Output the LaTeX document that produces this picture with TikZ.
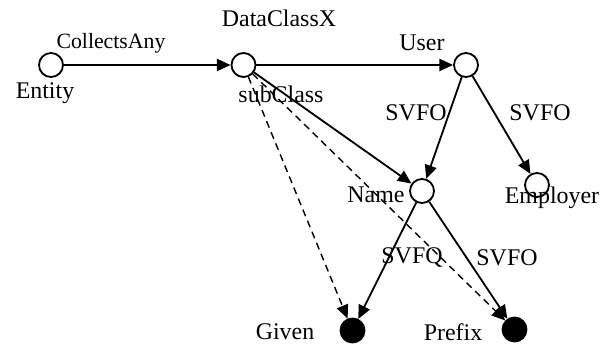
\documentclass[tikz,border=0pt]{standalone}
\usepackage{fontspec}
\setmainfont{Liberation Serif}
\usetikzlibrary{arrows.meta}

\begin{document}
\begin{tikzpicture}[x=0.025cm,y=-0.025cm,
    cls/.style={circle,draw,line width=1.3pt,minimum size=0.6cm,inner sep=0pt},
    inst/.style={cls,fill=black},
    txt/.style={font=\fontsize{17}{20}\selectfont,inner sep=0pt},
    rel/.style={-{Triangle[length=0.34cm,width=0.3cm]},line width=1.3pt},
    sub/.style={rel,line width=1pt,dash pattern=on 5pt off 3.5pt}]
    \useasboundingbox (0,0) rectangle (609,344);
    %classes
    \node[cls] (entity) at (51,65) {};
    \node[cls] (dcx) at (243.5,65) {};
    \node[cls] (user) at (466,65) {};
    \node[cls] (name) at (422,191) {};
    \node[cls] (employer) at (537,185) {};
    %instances
    \node[inst] (given) at (352.5,330.5) {};
    \node[inst] (prefix) at (514.5,329.5) {};

    %names
    \node[txt] (entityl) at (45,93) {Entity};
    \node[txt] (dcxl) at (279,18) {DataClassX};
    \node[txt] (userl) at (422,43) {User};
    \node[txt] (namel) at (376,195) {Name};
    \node[txt] (employerl) at (552,198) {Employer};
    \node[txt] (givenl) at (285,332) {Given};
    \node[txt] (prefixl) at (453,332) {Prefix};

    %relations
    \draw[rel] (entity) -- (dcx);
    \draw[rel] (dcx) -- (user);
    \draw[rel] (dcx) -- (name);
    \draw[rel] (user) -- (name);
    \draw[rel] (user) -- (employer);
    \draw[rel] (name) -- (given);
    \draw[rel] (name) -- (prefix);
    \draw[sub] (dcx) -- (given);
    \draw[sub] (dcx) -- (prefix);

    \node[txt,font=\fontsize{15.5}{18}\selectfont] (collects) at (111,43) {CollectsAny};
    \node[txt] (subcl) at (281,94) {subClass};
    \node[txt] (svfoa) at (416,113) {SVFO};
    \node[txt] (svfob) at (540,113) {SVFO};
    \node[txt] (svfq) at (412,258) {SVFQ};
    \node[txt] (svfoc) at (507,258) {SVFO};
\end{tikzpicture}
\end{document}
